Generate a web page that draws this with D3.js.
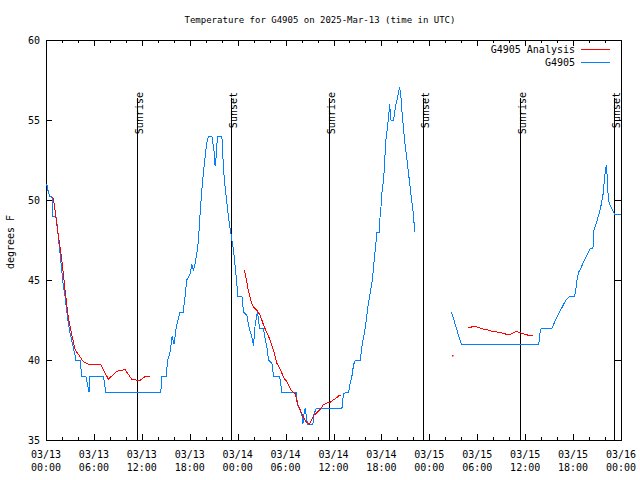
<!DOCTYPE html>
<html><head><meta charset="utf-8">
<script src="https://cdn.jsdelivr.net/npm/d3@7"></script>
<style>
body{margin:0;background:#fff}
text{font-family:"DejaVu Sans Mono",monospace;font-size:10px;fill:#000}
</style>
</head><body><svg id="c" width="640" height="480"></svg>
<script>
// ---- data (hours since 2025-03-13 00:00 UTC, temperature in °F) ----
const titleText = "Temperature for G4905 on 2025-Mar-13 (time in UTC)";
const yLabel = "degrees F";
const yTicks = [35, 40, 45, 50, 55, 60];
const xMajorHours = [0, 6, 12, 18, 24, 30, 36, 42, 48, 54, 60, 66, 72];
const xMinorHours = d3.range(0, 73, 2);
const seriesNames = ["G4905 Analysis", "G4905"];

const obsHours = [0.09,0.25,0.50,0.75,0.79,1.22,1.34,1.54,1.75,1.97,2.17,2.38,2.59,2.79,3.01,3.22,3.42,3.63,3.72,4.26,4.47,4.98,5.39,5.51,7.18,7.48,14.38,14.50,15.04,15.25,15.54,15.79,16.04,16.29,16.54,16.79,17.17,17.42,17.63,18.05,18.26,18.46,18.67,18.89,19.09,19.30,19.51,19.71,19.93,20.14,20.34,20.77,20.89,21.06,21.18,21.31,21.47,22.02,22.15,22.31,22.56,22.85,23.15,23.47,23.69,23.90,23.98,24.53,24.73,25.15,25.35,25.78,25.98,26.19,26.48,26.73,27.23,27.44,27.66,27.86,28.29,28.49,29.24,29.54,31.33,31.50,31.83,32.05,32.17,32.25,32.46,32.59,32.75,33.43,33.50,33.63,33.84,37.06,37.26,37.89,38.10,38.31,38.51,38.73,39.35,39.60,39.98,40.36,40.86,41.23,41.45,41.73,41.77,41.95,42.07,42.20,42.36,42.49,42.61,42.70,42.90,43.03,43.20,43.53,43.66,43.83,44.03,44.16,44.28,44.37,44.45,44.58,44.78,44.99,45.21,45.41,45.62,45.83,46.03,46.16,
  null,
  50.76,51.26,51.67,52.01,61.70,61.91,62.12,63.38,63.79,64.21,64.63,65.05,65.58,66.21,66.39,66.51,66.71,66.93,67.30,67.68,68.18,68.43,68.59,68.60,68.81,69.02,69.22,69.43,69.56,69.65,69.77,69.85,69.97,70.06,70.18,70.27,70.35,70.47,70.69,70.89,71.09,71.22,72.00];
const obsTemps = [51.0,50.6,50.2,50.2,49.0,49.0,48.7,47.7,46.7,45.6,44.6,44.0,43.1,42.3,41.7,41.2,40.8,40.3,40.0,40.0,39.0,39.0,38.0,39.0,39.0,38.0,38.0,39.0,39.0,40.0,40.5,41.5,41.0,42.0,42.5,43.0,43.0,44.0,45.0,45.4,46.0,45.6,46.0,46.7,47.5,49.2,50.6,51.7,52.7,53.6,54.0,54.0,53.6,53.0,52.1,52.7,54.0,54.0,52.7,51.4,50.2,48.9,47.9,46.9,45.8,44.8,44.0,44.0,43.0,42.8,42.2,41.4,40.9,42.2,43.0,42.0,42.0,41.3,40.8,40.0,39.8,39.0,39.0,38.0,38.0,37.2,36.9,36.5,36.0,36.5,37.0,36.5,36.0,36.0,36.5,36.7,37.0,37.0,37.9,38.0,38.6,39.0,39.7,40.0,40.0,41.0,42.0,43.5,45.0,46.9,48.0,48.0,48.6,49.6,50.5,51.0,51.9,53.2,54.1,54.3,55.2,56.0,55.0,55.0,55.5,56.0,56.4,56.8,57.0,56.8,56.4,55.5,54.4,53.3,52.5,51.6,50.7,49.8,49.0,48.0,
  null,
  43.0,42.2,41.5,41.0,41.0,41.9,42.0,42.0,42.5,42.9,43.3,43.7,44.0,44.0,44.6,45.1,45.5,45.7,46.1,46.5,47.0,47.0,47.2,48.1,48.4,48.75,49.1,49.5,49.8,50.1,50.4,50.9,51.5,52.0,52.1,51.5,50.6,49.9,49.6,49.4,49.2,49.1,49.1];

const anaHours = [0.79,0.91,1.13,1.34,1.54,1.75,1.97,2.17,2.38,2.59,2.79,3.01,3.22,3.42,3.63,3.85,4.67,5.51,6.86,7.81,8.86,9.90,10.74,11.69,12.53,13.03,
  null,
  24.85,25.15,25.35,25.78,25.98,26.41,26.82,27.23,27.66,28.07,28.49,28.91,29.33,29.83,30.16,30.58,30.91,31.20,31.48,31.81,32.15,32.56,32.97,33.27,33.56,33.90,34.31,34.73,35.06,35.56,35.98,36.40,36.73,36.91,
  null,
  50.81,
  null,
  52.88,53.51,54.13,54.56,55.19,55.81,56.44,57.06,57.69,58.11,58.52,58.86,59.36,59.98,60.40,60.95];
const anaTemps = [50.2,50.1,49.4,48.5,47.8,47.1,46.25,45.4,44.4,43.5,42.7,42.1,41.6,41.15,40.7,40.5,39.9,39.7,39.7,38.8,39.3,39.4,38.8,38.7,39.0,39.0,
  null,
  45.6,44.9,44.3,43.5,43.3,43.1,42.8,42.2,41.7,41.25,40.6,39.8,39.4,38.85,38.65,38.2,38.0,37.9,37.3,36.9,36.5,36.15,36.0,36.25,36.55,36.7,36.9,37.2,37.3,37.35,37.5,37.65,37.8,37.8,
  null,
  40.3,
  null,
  42.0,42.1,42.05,41.95,41.9,41.8,41.75,41.7,41.6,41.6,41.7,41.8,41.7,41.6,41.55,41.5];

const eventHours = [11.43, 23.17, 35.44, 47.21, 59.36, 71.17];
const eventLabels = ["Sunrise", "Sunset", "Sunrise", "Sunset", "Sunrise", "Sunset"];

const colors = ["#ff0000", "#0080ff"];

// ---- layout ----
const L = 46, R = 621, T = 40, B = 440;
const t0 = Date.UTC(2025, 2, 13);
const toDate = h => new Date(t0 + h * 3600e3);

const svg = d3.select("#c");
const x = d3.scaleUtc().domain([toDate(0), toDate(72)]).range([L, R]);
const y = d3.scaleLinear().domain([35, 60]).range([B, T]);

// title & y label
svg.append("text").attr("x", 320).attr("y", 23).attr("text-anchor", "middle")
  .style("font-size", "9px").text(titleText);
svg.append("text").attr("transform", "translate(14,242) rotate(-90)").attr("text-anchor", "middle").text(yLabel);

const crisp = g => g.selectAll("line,path").attr("shape-rendering", "crispEdges");

// y axes
const yl = svg.append("g").attr("transform", `translate(${L},0)`)
  .call(d3.axisLeft(y).tickValues(yTicks).tickSizeInner(-6).tickSizeOuter(0).tickPadding(6));
yl.select(".domain").remove();
yl.selectAll("text").attr("font-size", null).attr("font-family", null);
crisp(yl);
const yr = svg.append("g").attr("transform", `translate(${R},0)`)
  .call(d3.axisRight(y).tickValues(yTicks).tickSizeInner(-6).tickSizeOuter(0).tickFormat(""));
yr.select(".domain").remove(); crisp(yr);

// x axes: major & minor ticks, bottom and top
const xMaj = xMajorHours.map(toDate), xMin = xMinorHours.filter(h => h % 6 !== 0).map(toDate);
[[d3.axisBottom, B], [d3.axisTop, T]].forEach(([ax, pos]) => {
  const g1 = svg.append("g").attr("transform", `translate(0,${pos})`)
    .call(ax(x).tickValues(xMaj).tickSizeInner(-6).tickSizeOuter(0).tickFormat(""));
  g1.select(".domain").remove(); crisp(g1);
  const g2 = svg.append("g").attr("transform", `translate(0,${pos})`)
    .call(ax(x).tickValues(xMin).tickSizeInner(-3).tickSizeOuter(0).tickFormat(""));
  g2.select(".domain").remove(); crisp(g2);
});
const fDate = d3.utcFormat("%m/%d"), fTime = d3.utcFormat("%H:%M");
const xl = svg.append("g").selectAll("text").data(xMaj).join("text")
  .attr("text-anchor", "middle").attr("x", d => x(d));
xl.append("tspan").attr("x", d => x(d)).attr("y", 458).text(d => fDate(d));
xl.append("tspan").attr("x", d => x(d)).attr("y", 471).text(d => fTime(d));

// frame
svg.append("rect").attr("x", L).attr("y", T).attr("width", R - L).attr("height", B - T)
  .attr("fill", "none").attr("stroke", "#000").attr("shape-rendering", "crispEdges");

// sunrise / sunset lines
const ev = svg.append("g");
eventHours.forEach((h, i) => {
  const xx = Math.round(x(toDate(h))) + 0.5;
  ev.append("line").attr("x1", xx).attr("x2", xx).attr("y1", 98).attr("y2", B)
    .attr("stroke", "#000").attr("shape-rendering", "crispEdges");
  ev.append("text").attr("transform", `translate(${xx + 5},92) rotate(-90)`)
    .attr("text-anchor", "end").text(eventLabels[i]);
});

// series
const mk = (hs, ts) => hs.map((h, i) => ({h, t: ts[i]}));
const line = d3.line().defined(d => d.h != null && d.t != null)
  .x(d => x(toDate(d.h))).y(d => y(d.t));
svg.append("clipPath").attr("id", "pc").append("rect")
  .attr("x", L).attr("y", T).attr("width", R - L).attr("height", B - T);
const series = [mk(anaHours, anaTemps), mk(obsHours, obsTemps)];
[1, 0].forEach(k => {
  svg.append("path").datum(series[k]).attr("d", line).attr("clip-path", "url(#pc)")
    .attr("fill", "none").attr("stroke", colors[k]).attr("stroke-width", 1)
    .attr("shape-rendering", "crispEdges");
  const s = series[k];
  s.forEach((d, i) => {
    if (d.h == null) return;
    const prev = s[i - 1], next = s[i + 1];
    if ((!prev || prev.h == null) && (!next || next.h == null)) {
      svg.append("rect").attr("x", Math.round(x(toDate(d.h)))).attr("y", Math.round(y(d.t)))
        .attr("width", 1.5).attr("height", 1.5).attr("fill", colors[k]);
    }
  });
});

// legend
seriesNames.forEach((n, i) => {
  const yy = 49 + i * 13;
  svg.append("text").attr("x", 575).attr("y", yy).attr("dy", "0.35em").attr("text-anchor", "end").text(n);
  svg.append("line").attr("x1", 581).attr("x2", 610).attr("y1", yy + 0.5).attr("y2", yy + 0.5)
    .attr("stroke", colors[i]).attr("shape-rendering", "crispEdges");
});
</script></body></html>
